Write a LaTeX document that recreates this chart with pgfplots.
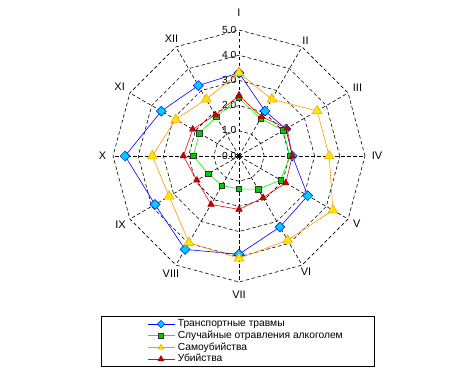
\documentclass[border=0pt]{standalone}
\usepackage{pgfplots}
\pgfplotsset{compat=1.18}
\usepgfplotslibrary{polar}
\usetikzlibrary{calc}
\usepackage{fontspec}
\setmainfont{Liberation Sans}
\definecolor{tblue}{RGB}{0,0,255}
\definecolor{tcyan}{RGB}{0,204,255}
\definecolor{agreen}{RGB}{0,255,0}
\definecolor{agreenf}{RGB}{0,204,0}
\definecolor{sorange}{RGB}{255,153,0}
\definecolor{syellow}{RGB}{255,230,0}
\definecolor{mred}{RGB}{255,0,0}
\definecolor{mredf}{RGB}{204,0,0}
\definecolor{mredd}{RGB}{150,0,0}
\begin{document}
\begin{tikzpicture}
\begin{polaraxis}[
  name=ax, hide axis, scale only axis, width=252bp, height=252bp,
  ymin=0, ymax=5, xmin=0, xmax=360, clip=false,
  legend cell align=left,
  legend image code/.code={\draw[mark repeat=2,mark phase=2] plot coordinates {(0bp,0bp)(13.5bp,0bp)(27bp,0bp)};},
  legend style={draw=none, fill=none, at={(axis description cs:0.135,-0.143)}, anchor=north west,
    font=\fontsize{10.3}{12}\selectfont, inner sep=0pt, row sep=0pt, column sep=3bp,
    nodes={inner ysep=1bp, inner xsep=0pt, text height=7.5bp, text depth=2.2bp}},
  gridl/.style={black, line width=0.6bp, dash pattern=on 3.5bp off 2.5bp, forget plot, mark=none},
]
\pgfplotsinvokeforeach{1,2,3,4,5}{
  \addplot[gridl] coordinates {(0,#1)(30,#1)(60,#1)(90,#1)(120,#1)(150,#1)(180,#1)(210,#1)(240,#1)(270,#1)(300,#1)(330,#1)(360,#1)};
}
\pgfplotsinvokeforeach{0,30,60,90,120,150,180,210,240,270,300,330}{
  \addplot[gridl] coordinates {(#1,0)(#1,5)};
}
\coordinate (O) at (axis cs:0,0);
% tick labels
\pgfplotsinvokeforeach{0,1,2,3,4,5}{
  \node[anchor=east, inner sep=0pt, font=\fontsize{10.3}{12}\selectfont] at ($(axis cs:90,#1)+(-2.5bp,0.5bp)$) {#1.0};
}
% month labels
\begin{scope}[every node/.style={font=\fontsize{11}{13}\selectfont, inner sep=0pt}]
\node at (axis cs:90,5.68) {I};
\node at (axis cs:60,5.28) {II};
\node at (axis cs:30,5.43) {III};
\node at (axis cs:0,5.48) {IV};
\node at (axis cs:330,5.40) {V};
\node at (axis cs:300,5.32) {VI};
\node at (axis cs:270,5.52) {VII};
\node at (axis cs:240,5.40) {VIII};
\node at (axis cs:210,5.43) {IX};
\node at (axis cs:180,5.42) {X};
\node at (axis cs:150,5.47) {XI};
\node at (axis cs:120,5.36) {XII};
\end{scope}
% data
\addplot[tblue, line width=0.6bp, mark=square*, mark size=3.5bp, mark options={rotate=45, fill=tcyan, draw=tblue, line width=0.5bp},
  legend image post style={mark size=2.6bp}]
 coordinates {(90,3.30)(60,2.06)(30,2.15)(0,2.12)(330,3.15)(300,3.25)(270,3.90)(240,4.28)(210,3.85)(180,4.52)(150,3.56)(120,3.23)(90,3.30)};
\addlegendentry{Транспортные травмы}
\addplot[agreen, line width=0.6bp, mark=square*, mark size=2.7bp, mark options={fill=agreenf, draw=black!80, line width=0.5bp},
  legend image post style={mark size=2.6bp}]
 coordinates {(90,2.30)(60,1.72)(30,2.03)(0,2.02)(330,1.91)(300,1.52)(270,1.31)(240,1.35)(210,1.41)(180,1.81)(150,1.82)(120,1.80)(90,2.30)};
\addlegendentry{Случайные отравления алкоголем}
\addplot[sorange, line width=0.6bp, mark=triangle*, mark size=5.6bp, mark options={fill=syellow, draw=sorange, line width=0.5bp},
  legend image post style={mark size=3.2bp}]
 coordinates {(90,3.30)(60,2.60)(30,3.58)(0,3.58)(330,4.30)(300,3.86)(270,4.06)(240,3.97)(210,3.20)(180,3.44)(150,2.90)(120,2.60)(90,3.30)};
\addlegendentry{Самоубийства}
\addplot[mred, line width=0.6bp, mark=triangle*, mark size=3.8bp, mark options={fill=mredf, draw=mredd, line width=0.5bp},
  legend image post style={mark size=3.5bp}]
 coordinates {(90,2.40)(60,1.80)(30,2.20)(0,2.12)(330,2.14)(300,1.91)(270,2.12)(240,2.22)(210,1.93)(180,2.21)(150,2.12)(120,1.88)(90,2.40)};
\addlegendentry{Убийства}
\end{polaraxis}
\fill (O) circle (2bp);
\draw[line width=0.8bp] ($(O)+(-138bp,-160bp)$) rectangle ($(O)+(135bp,-210bp)$);
\pgfresetboundingbox
\path[use as bounding box] ($(O)+(-239bp,156bp)$) rectangle ($(O)+(214bp,-215bp)$);
\end{tikzpicture}
\end{document}
